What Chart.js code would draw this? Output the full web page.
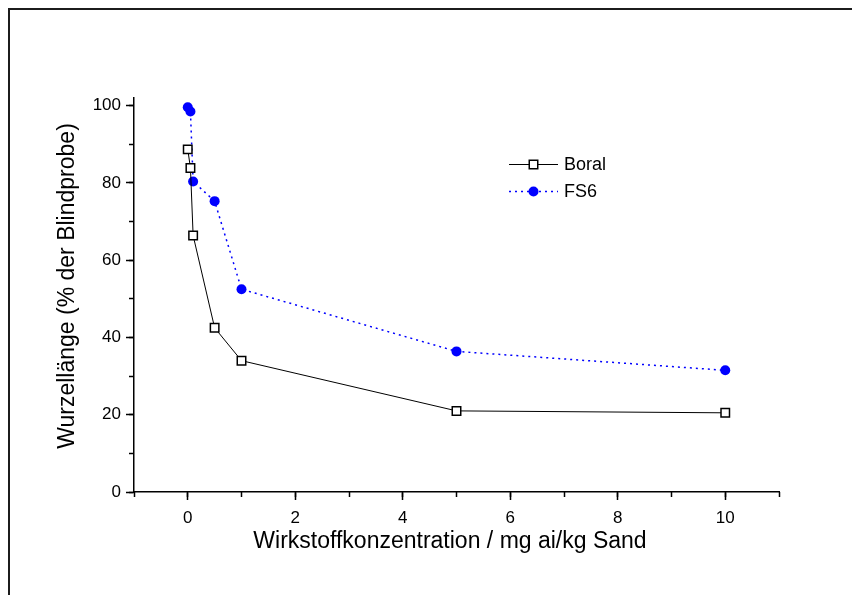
<!DOCTYPE html>
<html>
<head>
<meta charset="utf-8">
<script src="https://cdn.jsdelivr.net/npm/chart.js@4.4.0/dist/chart.umd.min.js"></script>
<style>
html,body{margin:0;padding:0;background:#fff;}
#wrap{position:relative;width:852px;height:595px;overflow:hidden;}
canvas{display:block;}
</style>
</head>
<body>
<div id="wrap"><canvas id="c" width="852" height="595"></canvas></div>
<script>
// ---- data ----
const concentrations = [0, 0.05, 0.1, 0.5, 1, 5, 10];
const boral = [88.7, 83.9, 66.4, 42.5, 34.0, 21.0, 20.5];
const fs6 = [99.6, 98.5, 80.4, 75.3, 52.5, 36.4, 31.5];
const seriesNames = ['Boral', 'FS6'];
const xTickLabels = [0, 2, 4, 6, 8, 10];
const xMinorTicks = [-1, 0, 1, 2, 3, 4, 5, 6, 7, 8, 9, 10, 11];
const yTickLabels = [0, 20, 40, 60, 80, 100];
const yMinorTicks = [0, 10, 20, 30, 40, 50, 60, 70, 80, 90, 100];
const xTitle = 'Wirkstoffkonzentration / mg ai/kg Sand';
const yTitle = 'Wurzellänge (% der Blindprobe)';
const xRange = [-1, 11];
const yRange = [0, 102];

const FONT = '"Liberation Sans", Arial, Helvetica, sans-serif';
const toPts = (xs, ys) => xs.map((x, i) => ({x: x, y: ys[i]}));

const decor = {
  id: 'decor',
  beforeDraw(chart) {
    const ctx = chart.ctx;
    ctx.save();
    ctx.fillStyle = '#fff';
    ctx.fillRect(0, 0, chart.width, chart.height);
    ctx.fillStyle = '#1c1c1c';
    ctx.fillRect(8, 8, chart.width - 8, 2);
    ctx.fillRect(8, 8, 2, chart.height - 8);
    ctx.restore();
  },
  afterDraw(chart) {
    const ctx = chart.ctx;
    // axis titles
    ctx.save();
    ctx.fillStyle = '#000';
    ctx.font = '23px ' + FONT;
    ctx.textAlign = 'center';
    ctx.textBaseline = 'alphabetic';
    ctx.fillText(xTitle, 450, 548);
    ctx.translate(74, 286);
    ctx.rotate(-Math.PI / 2);
    ctx.fillText(yTitle, 0, 0);
    ctx.restore();
    // legend
    chart.data.datasets.forEach((ds, i) => {
      const y = 164.5 + i * 27;
      ctx.save();
      ctx.strokeStyle = ds.borderColor;
      ctx.lineWidth = ds.borderWidth;
      ctx.setLineDash(ds.borderDash || []);
      ctx.beginPath();
      ctx.moveTo(509, y);
      ctx.lineTo(558, y);
      ctx.stroke();
      ctx.setLineDash([]);
      ctx.fillStyle = ds.pointBackgroundColor;
      ctx.strokeStyle = ds.pointBorderColor;
      ctx.lineWidth = ds.pointBorderWidth;
      Chart.helpers.drawPoint(ctx, {pointStyle: ds.pointStyle, radius: ds.pointRadius, rotation: 0, borderWidth: ds.pointBorderWidth}, 533.5, y);
      ctx.fillStyle = '#000';
      ctx.font = '18px ' + FONT;
      ctx.textAlign = 'left';
      ctx.textBaseline = 'middle';
      ctx.fillText(ds.label, 564, y + 1);
      ctx.restore();
    });
  }
};

const tickFont = {family: FONT, size: 17};

new Chart(document.getElementById('c'), {
  type: 'line',
  data: {
    datasets: [
      {
        label: seriesNames[0],
        data: toPts(concentrations, boral),
        borderColor: '#000',
        borderWidth: 1,
        pointStyle: 'rect',
        pointRadius: 6,
        pointBackgroundColor: '#fff',
        pointBorderColor: '#000',
        pointBorderWidth: 1.5,
        tension: 0
      },
      {
        label: seriesNames[1],
        data: toPts(concentrations, fs6),
        borderColor: '#0000ff',
        borderWidth: 1.5,
        borderDash: [2, 4],
        pointStyle: 'circle',
        pointRadius: 5,
        pointBackgroundColor: '#0000ff',
        pointBorderColor: '#0000ff',
        pointBorderWidth: 0,
        tension: 0
      }
    ]
  },
  options: {
    responsive: false,
    devicePixelRatio: 1,
    animation: false,
    layout: {padding: {left: 0, top: 98, right: 73, bottom: 0}},
    plugins: {legend: {display: false}, tooltip: {enabled: false}, title: {display: false}},
    scales: {
      x: {
        type: 'linear', position: 'bottom', weight: 1,
        min: xRange[0], max: xRange[1],
        afterFit(s) { s.height = 103; },
        afterBuildTicks(s) { s.ticks = xTickLabels.map(v => ({value: v})); },
        grid: {drawOnChartArea: false, drawTicks: true, tickLength: 8, tickColor: '#000', tickWidth: 1.5},
        border: {display: true, color: '#000', width: 1.5},
        ticks: {color: '#000', font: tickFont, padding: 8, maxRotation: 0, autoSkip: false}
      },
      xMinor: {
        type: 'linear', position: 'bottom', weight: 0,
        min: xRange[0], max: xRange[1],
        afterFit(s) { s.height = 0; },
        afterBuildTicks(s) { s.ticks = xMinorTicks.map(v => ({value: v})); },
        grid: {drawOnChartArea: false, drawTicks: true, tickLength: 5, tickColor: '#000', tickWidth: 1.5},
        border: {display: false},
        ticks: {display: false}
      },
      y: {
        type: 'linear', position: 'left', weight: 1,
        min: yRange[0], max: yRange[1],
        afterFit(s) { s.width = 134; },
        afterBuildTicks(s) { s.ticks = yTickLabels.map(v => ({value: v})); },
        grid: {drawOnChartArea: false, drawTicks: true, tickLength: 8, tickColor: '#000', tickWidth: 1.5},
        border: {display: true, color: '#000', width: 1.5},
        ticks: {color: '#000', font: tickFont, padding: 5, autoSkip: false}
      },
      yMinor: {
        type: 'linear', position: 'left', weight: 0,
        min: yRange[0], max: yRange[1],
        afterFit(s) { s.width = 0; },
        afterBuildTicks(s) { s.ticks = yMinorTicks.map(v => ({value: v})); },
        grid: {drawOnChartArea: false, drawTicks: true, tickLength: 5, tickColor: '#000', tickWidth: 1.5},
        border: {display: false},
        ticks: {display: false}
      }
    }
  },
  plugins: [decor]
});
</script>
</body>
</html>
